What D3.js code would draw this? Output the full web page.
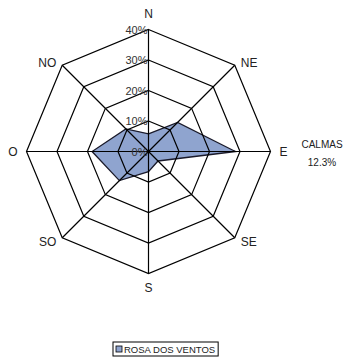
<!DOCTYPE html>
<html>
<head>
<meta charset="utf-8">
<script src="https://cdn.jsdelivr.net/npm/d3@7"></script>
<style>
  html, body { margin: 0; padding: 0; background: #fff; }
  svg { display: block; }
  text { font-family: "Liberation Sans", Arial, sans-serif; }
</style>
</head>
<body>
<svg id="chart" width="349" height="358"></svg>
<script>
// Wind rose: frequency of wind direction (%)
const directions = ["N", "NE", "E", "SE", "S", "SO", "O", "NO"];
const frequencies = [5.8, 13.5, 28.5, 4.4, 6.6, 13.5, 18.5, 10.5];
const ringValues = [0, 10, 20, 30, 40];
const ringLabels = ["0%", "10%", "20%", "30%", "40%"];
const calmLabel = "CALMAS";
const calmValue = 12.3;
const seriesName = "ROSA DOS VENTOS";

const svg = d3.select("#chart");
const cx = 148.5, cy = 151.5, outerR = 122;

const r = d3.scaleLinear().domain([0, 40]).range([0, outerR]);
const angle = d3.scalePoint().domain(directions).range([0, 2 * Math.PI * 7 / 8]);

const pt = (dir, v) => {
  const a = angle(dir) - Math.PI / 2;
  return [cx + r(v) * Math.cos(a), cy + r(v) * Math.sin(a)];
};

const g = svg.append("g");
const ringLine = d3.line();

// data polygon
const poly = directions.map((d, i) => pt(d, frequencies[i]));
g.append("path")
  .attr("d", ringLine(poly) + "Z")
  .attr("fill", "#8fa4cf")
  .attr("stroke", "#1a1a2a")
  .attr("stroke-width", 1.3);

// octagonal grid rings
ringValues.filter(v => v > 0).forEach(v => {
  const pts = directions.map(d => pt(d, v));
  g.append("path")
    .attr("d", ringLine(pts) + "Z")
    .attr("fill", "none")
    .attr("stroke", "#000")
    .attr("stroke-width", 1.2);
});

// spokes
directions.forEach(d => {
  const [x, y] = pt(d, 40);
  g.append("line")
    .attr("x1", cx).attr("y1", cy).attr("x2", x).attr("y2", y)
    .attr("stroke", "#000").attr("stroke-width", 1.2);
});

// ring labels on north spoke
ringValues.forEach((v, i) => {
  const [x, y] = pt("N", v);
  g.append("text")
    .attr("x", x - 1).attr("y", y + 4)
    .attr("text-anchor", "end")
    .attr("font-size", 11)
    .attr("fill", "#333")
    .text(ringLabels[i]);
});

// direction labels
const labelOffset = {
  N: [0, -12, "middle"], NE: [6, 2, "start"], E: [9, 4, "start"], SE: [6, 8, "start"],
  S: [0, 18, "middle"], SO: [-6, 8, "end"], O: [-9, 4, "end"], NO: [-6, 2, "end"]
};
directions.forEach(d => {
  const [x, y] = pt(d, 40);
  const [dx, dy, anchor] = labelOffset[d];
  g.append("text")
    .attr("x", x + dx).attr("y", y + dy)
    .attr("text-anchor", anchor)
    .attr("font-size", 12)
    .attr("fill", "#222")
    .text(d);
});

// calm percentage
svg.append("text")
  .attr("x", 322).attr("y", 148)
  .attr("text-anchor", "middle")
  .attr("font-size", 10).attr("fill", "#222")
  .text(calmLabel);
svg.append("text")
  .attr("x", 322).attr("y", 166)
  .attr("text-anchor", "middle")
  .attr("font-size", 10).attr("fill", "#222")
  .text(d3.format(".1f")(calmValue) + "%");

// legend
const leg = svg.append("g").attr("transform", "translate(113,342)");
const legText = leg.append("text")
  .attr("x", 11).attr("y", 10.5)
  .attr("font-size", 9.5).attr("fill", "#222")
  .text(seriesName);
const tw = legText.node().getComputedTextLength();
leg.insert("rect", "text")
  .attr("x", 0).attr("y", 0)
  .attr("width", tw + 14).attr("height", 14)
  .attr("fill", "#fff").attr("stroke", "#000").attr("stroke-width", 1);
leg.append("rect")
  .attr("x", 3).attr("y", 4)
  .attr("width", 6).attr("height", 6)
  .attr("fill", "#8fa4cf").attr("stroke", "#000").attr("stroke-width", 0.8);
</script>
</body>
</html>
